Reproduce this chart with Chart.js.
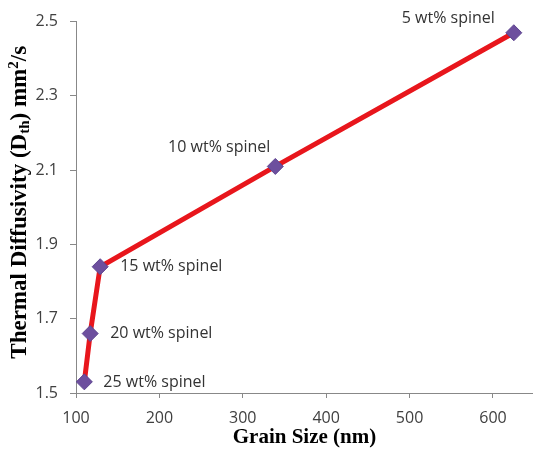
<!DOCTYPE html>
<html>
<head>
<meta charset="utf-8">
<script src="https://cdn.jsdelivr.net/npm/chart.js@4.4.1/dist/chart.umd.min.js"></script>
<style>
  html, body { margin: 0; padding: 0; background: #fff; }
  #wrap { width: 533px; height: 458px; }
</style>
</head>
<body>
<div id="wrap"><canvas id="chart"></canvas></div>
<script>
// data
const grainSize = [110, 117, 129, 339, 625];
const diffusivity = [1.53, 1.66, 1.84, 2.11, 2.47];
const pointLabels = ['25 wt% spinel', '20 wt% spinel', '15 wt% spinel', '10 wt% spinel', '5 wt% spinel'];
const xTicks = [100, 200, 300, 400, 500, 600];
const yTicks = [1.5, 1.7, 1.9, 2.1, 2.3, 2.5];

// label placement relative to each marker (pixels)
const labelOffsets = [
  { dx: 19, dy: 1, align: 'left' },
  { dx: 20, dy: 0, align: 'left' },
  { dx: 20, dy: 0, align: 'left' },
  { dx: -5, dy: -19, align: 'right' },
  { dx: -19, dy: -14, align: 'right' }
];

const points = grainSize.map((x, i) => ({ x: x, y: diffusivity[i] }));

// let the x axis run to the right edge of the canvas
const fitPlotPlugin = {
  id: 'fitPlot',
  afterLayout(chart) {
    const xs = chart.scales.x;
    const right = chart.width;
    xs.right = right;
    xs.width = right - xs.left;
    chart.chartArea.right = right;
    chart.chartArea.width = right - chart.chartArea.left;
    xs.configure();
  }
};

const pointLabelPlugin = {
  id: 'pointLabels',
  afterDatasetsDraw(chart) {
    const ctx = chart.ctx;
    const meta = chart.getDatasetMeta(0);
    ctx.save();
    ctx.font = '16px "Open Sans"';
    ctx.fillStyle = '#333';
    ctx.textBaseline = 'middle';
    meta.data.forEach((pt, i) => {
      const o = labelOffsets[i];
      ctx.textAlign = o.align;
      ctx.fillText(pointLabels[i], pt.x + o.dx, pt.y + o.dy);
    });
    ctx.restore();
  }
};

// y title with subscript and superscript
const yTitlePlugin = {
  id: 'yTitle',
  afterDraw(chart) {
    const ctx = chart.ctx;
    const area = chart.chartArea;
    const big = 'bold 23px "Liberation Serif"';
    const small = 'bold 15px "Liberation Serif"';
    const parts = [
      { t: 'Thermal Diffusivity (D', f: big, dy: 0 },
      { t: 'th', f: small, dy: 5 },
      { t: ') mm', f: big, dy: 0 },
      { t: '2', f: small, dy: -6 },
      { t: '/s', f: big, dy: 0 }
    ];
    ctx.save();
    let total = 0;
    parts.forEach(p => { ctx.font = p.f; p.w = ctx.measureText(p.t).width; total += p.w; });
    ctx.translate(20, (area.top + area.bottom) / 2 - 5);
    ctx.rotate(-Math.PI / 2);
    ctx.fillStyle = '#000';
    ctx.textBaseline = 'middle';
    ctx.textAlign = 'left';
    let x = -total / 2;
    parts.forEach(p => {
      ctx.font = p.f;
      ctx.fillText(p.t, x, p.dy);
      x += p.w;
    });
    ctx.restore();
  }
};

const ctxDiff = document.getElementById('chart');
new Chart(ctxDiff, {
  type: 'scatter',
  data: {
    datasets: [{
      label: 'Thermal diffusivity',
      data: points,
      showLine: true,
      borderColor: '#e8161c',
      borderWidth: 5,
      pointStyle: 'rectRot',
      pointRadius: 8,
      pointHoverRadius: 8,
      pointBackgroundColor: '#6d4f9e',
      pointBorderColor: '#5e4590',
      pointBorderWidth: 1,
      tension: 0
    }]
  },
  options: {
    responsive: true,
    maintainAspectRatio: false,
    animation: false,
    layout: { padding: { top: 19, right: 0, left: 0, bottom: 0 } },
    plugins: { legend: { display: false }, tooltip: { enabled: false } },
    scales: {
      x: {
        type: 'linear',
        min: 100,
        max: 648,
        afterBuildTicks: s => { s.ticks = xTicks.map(v => ({ value: v })); },
        afterFit: s => { s.height = 65; },
        ticks: { padding: 11, color: '#404040', font: { family: 'Open Sans', size: 16 } },
        grid: { drawOnChartArea: false, tickLength: 5, color: '#888' },
        border: { color: '#888' },
        title: {
          display: true,
          text: 'Grain Size (nm)',
          color: '#000',
          font: { family: 'Liberation Serif', size: 21, weight: 'bold' },
          padding: { top: 0, bottom: 8 }
        }
      },
      y: {
        min: 1.5,
        max: 2.5,
        afterBuildTicks: s => { s.ticks = yTicks.map(v => ({ value: v })); },
        afterFit: s => { s.width = 76; },
        ticks: {
          padding: 12,
          color: '#404040',
          font: { family: 'Open Sans', size: 16 },
          callback: v => v.toFixed(1)
        },
        grid: { drawOnChartArea: false, tickLength: 6, color: '#888' },
        border: { color: '#888' }
      }
    }
  },
  plugins: [fitPlotPlugin, pointLabelPlugin, yTitlePlugin]
});
</script>
</body>
</html>
